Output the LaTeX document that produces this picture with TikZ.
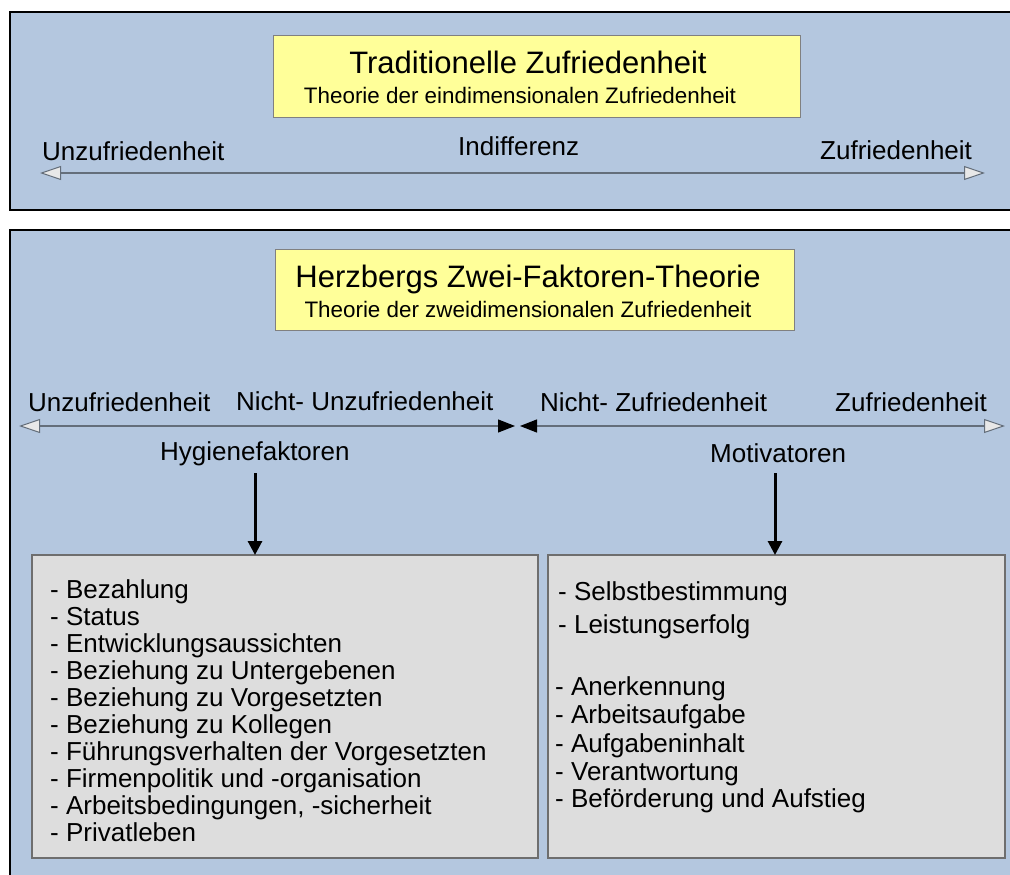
\documentclass[tikz,border=0pt]{standalone}
\usepackage{fontspec}
\setmainfont{Liberation Sans}
\usetikzlibrary{arrows.meta}
\definecolor{panelblue}{RGB}{180,199,223}
\definecolor{boxyellow}{RGB}{255,255,153}
\definecolor{boxgray}{RGB}{221,221,221}
\definecolor{boxedge}{RGB}{110,110,110}
\definecolor{linegray}{RGB}{100,110,122}
\definecolor{headgray}{RGB}{232,232,232}
\tikzset{
  gtip/.tip={Triangle[length=21pt,width=14pt,fill=headgray,line width=1pt]},
  btip/.tip={Triangle[length=17pt,width=13pt,fill=black,color=black]},
  dtip/.tip={Triangle[length=14pt,width=14pt,fill=black]}
}
\begin{document}
\begin{tikzpicture}[x=1pt,y=-1pt,
  panel/.style={draw=black,line width=2.4pt,fill=panelblue},
  titlebox/.style={draw=gray,line width=0.8pt,fill=boxyellow},
  listbox/.style={draw=boxedge,line width=1.2pt,fill=boxgray},
  lbl/.style={inner sep=0pt,anchor=base west,font=\fontsize{26}{31}\selectfont},
  ttl/.style={inner sep=0pt,anchor=base,font=\fontsize{31}{37}\selectfont},
  subttl/.style={inner sep=0pt,anchor=base,font=\fontsize{22.4}{27}\selectfont},
  axisline/.style={draw=linegray,line width=1.2pt},
  downarrow/.style={draw=black,line width=3pt,-{dtip}}
]
\useasboundingbox (0,0) rectangle (1010,875);
\clip (0,0) rectangle (1010,875);
\fill[white] (0,0) rectangle (1010,875);

% panels
\draw[panel] (10,12) rectangle (1030,210);
\draw[panel] (10,230) rectangle (1030,895);

% top panel
\draw[titlebox] (273,35) rectangle (800,117);
\node[ttl] (t1) at (528,74) {Traditionelle Zufriedenheit};
\node[subttl] (s1) at (520,103) {Theorie der eindimensionalen Zufriedenheit};
\node[lbl] (u1) at (42,160) {Unzufriedenheit};
\node[lbl] (i1) at (458,155) {Indifferenz};
\node[lbl] (z1) at (820,159) {Zufriedenheit};
\coordinate (a1l) at (40,173);
\coordinate (a1r) at (985,173);
\draw[axisline,{gtip}-{gtip}] (a1l) -- (a1r);

% lower panel
\draw[titlebox] (275,249) rectangle (794,330);
\node[ttl] (t2) at (528,287) {Herzbergs Zwei-Faktoren-Theorie};
\node[subttl] (s2) at (528,317) {Theorie der zweidimensionalen Zufriedenheit};
\node[lbl] (u2) at (28,411) {Unzufriedenheit};
\node[lbl] (nu2) at (236,410) {Nicht- Unzufriedenheit};
\node[lbl] (nz2) at (540,411) {Nicht- Zufriedenheit};
\node[lbl] (z2) at (835,411) {Zufriedenheit};
\coordinate (a2l) at (19,426);
\coordinate (a2m1) at (515,426);
\coordinate (a2m2) at (520,426);
\coordinate (a2r) at (1005,426);
\draw[axisline,{gtip}-{btip}] (a2l) -- (a2m1);
\draw[axisline,{btip}-{gtip}] (a2m2) -- (a2r);
\node[lbl] (hy) at (160,460) {Hygienefaktoren};
\node[lbl] (mo) at (710,462) {Motivatoren};

% list boxes
\draw[listbox] (32,555) rectangle (538,858);
\draw[listbox] (548,555) rectangle (1005,858);
\coordinate (hyS) at (255,473);
\coordinate (hyE) at (255,555);
\coordinate (moS) at (775,473);
\coordinate (moE) at (775,555);
\draw[downarrow] (hyS) -- (hyE);
\draw[downarrow] (moS) -- (moE);

\foreach \t [count=\i from 0] in {
  {- Bezahlung},
  {- Status},
  {- Entwicklungsaussichten},
  {- Beziehung zu Untergebenen},
  {- Beziehung zu Vorgesetzten},
  {- Beziehung zu Kollegen},
  {- Führungsverhalten der Vorgesetzten},
  {- Firmenpolitik und -organisation},
  {- Arbeitsbedingungen, -sicherheit},
  {- Privatleben}}
  \node[lbl] (h\i) at (50,598+27.1*\i) {\t};

\node[lbl] (m0) at (558,600) {- Selbstbestimmung};
\node[lbl] (m1) at (558,633) {- Leistungserfolg};
\node[lbl] (m2) at (555,695) {- Anerkennung};
\node[lbl] (m3) at (555,723) {- Arbeitsaufgabe};
\node[lbl] (m4) at (555,752) {- Aufgabeninhalt};
\node[lbl] (m5) at (555,780) {- Verantwortung};
\node[lbl] (m6) at (555,807) {- Beförderung und Aufstieg};
\end{tikzpicture}
\end{document}
